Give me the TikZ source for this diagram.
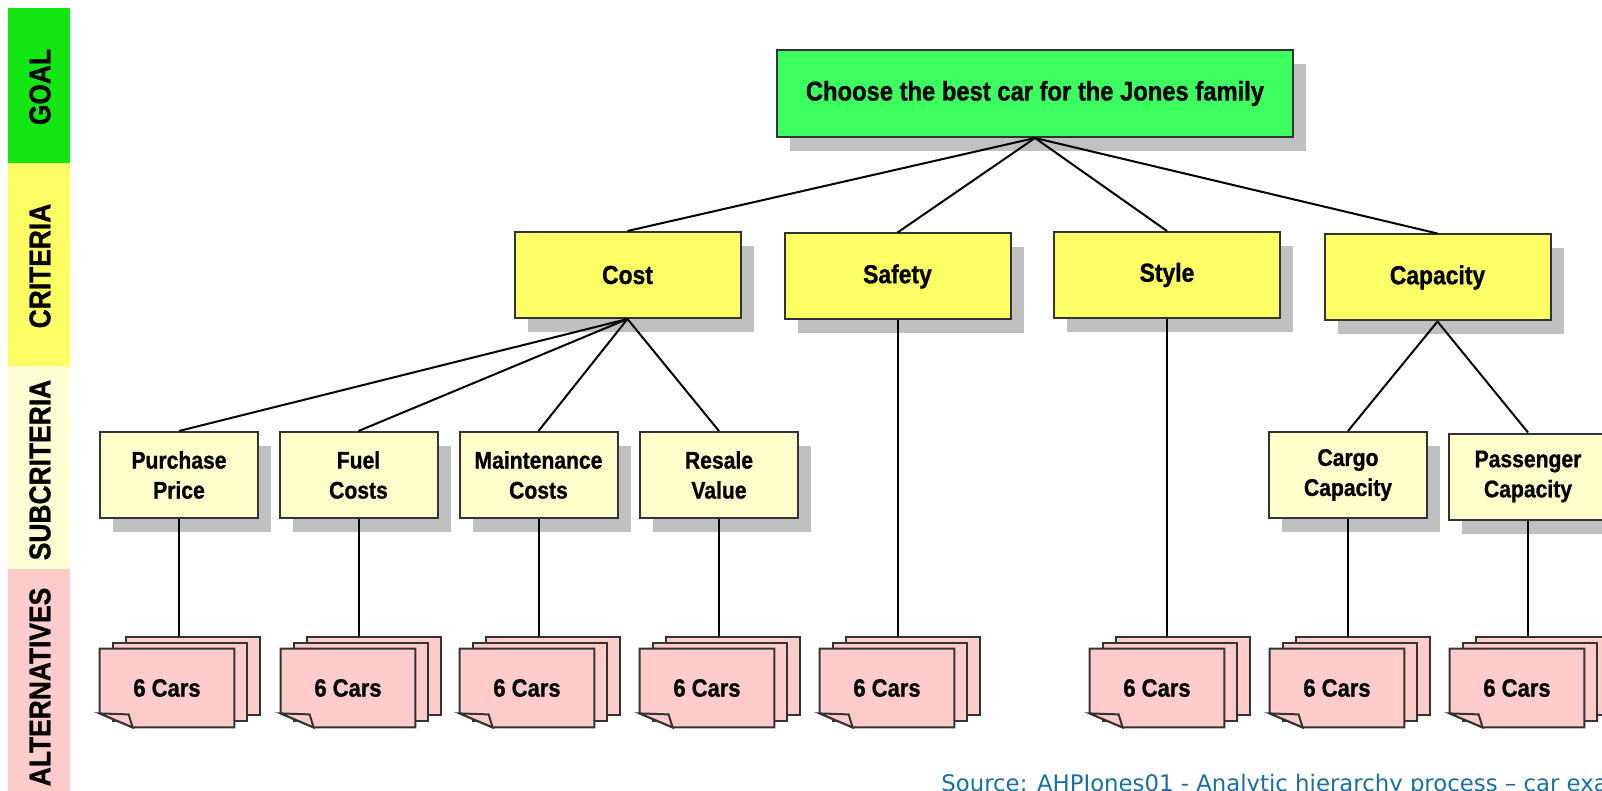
\documentclass[tikz,border=0pt]{standalone}
\usepackage{fontspec}
\usetikzlibrary{shadows, positioning}
\newfontfamily\narrowfont[FakeStretch=0.88, BoldFeatures={FakeBold=1}]{Liberation Sans}
\newfontfamily\sourcefont{DejaVu Sans}
\definecolor{BandGreen}{HTML}{14E614}
\definecolor{BandYellow}{HTML}{FFFF66}
\definecolor{BandPale}{HTML}{FFFFD6}
\definecolor{BandPink}{HTML}{FFCCCC}
\definecolor{GoalGreen}{HTML}{3DFF60}
\definecolor{CritYellow}{HTML}{FFFF66}
\definecolor{SubYellow}{HTML}{FFFFCC}
\definecolor{CarPink}{HTML}{FFCCCC}
\definecolor{BoxLine}{HTML}{333333}
\definecolor{ShadowGray}{HTML}{C0C0C0}
\definecolor{SourceBlue}{HTML}{1B6E9F}

\begin{document}
\begin{tikzpicture}[x=0.5pt, y=-0.5pt,
    every node/.style={font=\narrowfont\bfseries},
    box/.style={draw=BoxLine, line width=1pt, align=center, inner sep=0pt,
        drop shadow={shadow xshift=6.5pt, shadow yshift=-7pt, fill=ShadowGray, opacity=1}},
    goalbox/.style={box, fill=GoalGreen, minimum width=258pt, minimum height=43.5pt,
        font=\narrowfont\bfseries\fontsize{13.5}{16}\selectfont},
    critbox/.style={box, fill=CritYellow, minimum width=113pt, minimum height=43pt,
        font=\narrowfont\bfseries\fontsize{13}{16}\selectfont},
    subbox/.style={box, fill=SubYellow, minimum width=79pt, minimum height=43pt,
        font=\narrowfont\bfseries\fontsize{12}{15}\selectfont},
    cardline/.style={draw=BoxLine, line width=1pt, fill=CarPink},
    cardback/.style={cardline, minimum width=67pt, minimum height=39pt, inner sep=0pt},
    cardfront/.style={minimum width=67pt, minimum height=39pt, inner sep=0pt},
    cartext/.style={font=\narrowfont\bfseries\fontsize{12.5}{14}\selectfont},
    bandlabel/.style={rotate=90, font=\narrowfont\bfseries\fontsize{15}{18}\selectfont},
    link/.style={line width=1pt, black}]

    \clip (0,0) rectangle (1602,791);

    % Level band on the left
    \fill[BandGreen] (8,8) rectangle (70,163);
    \fill[BandYellow] (8,163) rectangle (70,366);
    \fill[BandPale] (8,366) rectangle (70,569);
    \fill[BandPink] (8,569) rectangle (70,800);
    \node[bandlabel] (lgoal) at (40,87) {GOAL};
    \node[bandlabel] (lcrit) at (40,266) {CRITERIA};
    \node[bandlabel] (lsub) at (40,470) {SUBCRITERIA};
    \node[bandlabel] (lalt) at (40,687) {ALTERNATIVES};

    % Goal
    \node[goalbox] (goal) at (1035,93.5) {Choose the best car for the Jones family};

    % Criteria
    \node[critbox] (cost) at (627.5,275) {Cost};
    \node[critbox] (safety) at (897.5,276.5) {Safety};
    \node[critbox] (stl) at (1167,275) {Style};
    \node[critbox] (capacity) at (1437.5,277.5) {Capacity};

    % Subcriteria
    \node[subbox] (pp) at (179,475) {Purchase\\Price};
    \node[subbox] (fc) at (358.5,475) {Fuel\\Costs};
    \node[subbox] (mc) at (538.5,475) {Maintenance\\Costs};
    \node[subbox] (rv) at (719,475) {Resale\\Value};
    \node[subbox] (cc) at (1348,475) {Cargo\\Capacity};
    \node[subbox] (pc) at (1528,476.5) {Passenger\\Capacity};

    % Alternatives (stacks of cards)
    \foreach \i/\x in {1/100, 2/281, 3/460, 4/640, 5/820, 6/1090, 7/1270, 8/1450} {
        \node[cardback] (c\i-b) at (\x+93,676) {};
        \node[cardback] (c\i-m) at (\x+80,682) {};
        \node[cardfront] (c\i) at (\x+67,688) {};
        \filldraw[cardline] (c\i.north west) -- (c\i.north east) -- (c\i.south east)
            -- ([xshift=16.5pt]c\i.south west) -- ([yshift=7pt]c\i.south west) -- cycle;
        \filldraw[cardline] ([yshift=7pt]c\i.south west) -- ([xshift=14.5pt,yshift=6.5pt]c\i.south west)
            -- ([xshift=16.5pt]c\i.south west) -- cycle;
        \node[cartext] (t\i) at (c\i) {6 Cars};
    }

    % Lines
    \foreach \c in {cost, safety, stl, capacity}
        \draw[link] (goal.south) -- (\c.north);
    \foreach \s in {pp, fc, mc, rv}
        \draw[link] (cost.south) -- (\s.north);
    \foreach \s in {cc, pc}
        \draw[link] (capacity.south) -- (\s.north);
    \foreach \s/\c in {pp/1, fc/2, mc/3, rv/4, safety/5, stl/6, cc/7, pc/8}
        \draw[link] (\s.south) -- (\s.south |- c\c-b.north);

    % Source
    \node[anchor=base west, inner sep=0pt, text=SourceBlue, font=\sourcefont\fontsize{11.4}{13}\selectfont]
        (source) at (941,791) {Source: AHPJones01 - Analytic hierarchy process – car example};
\end{tikzpicture}
\end{document}
